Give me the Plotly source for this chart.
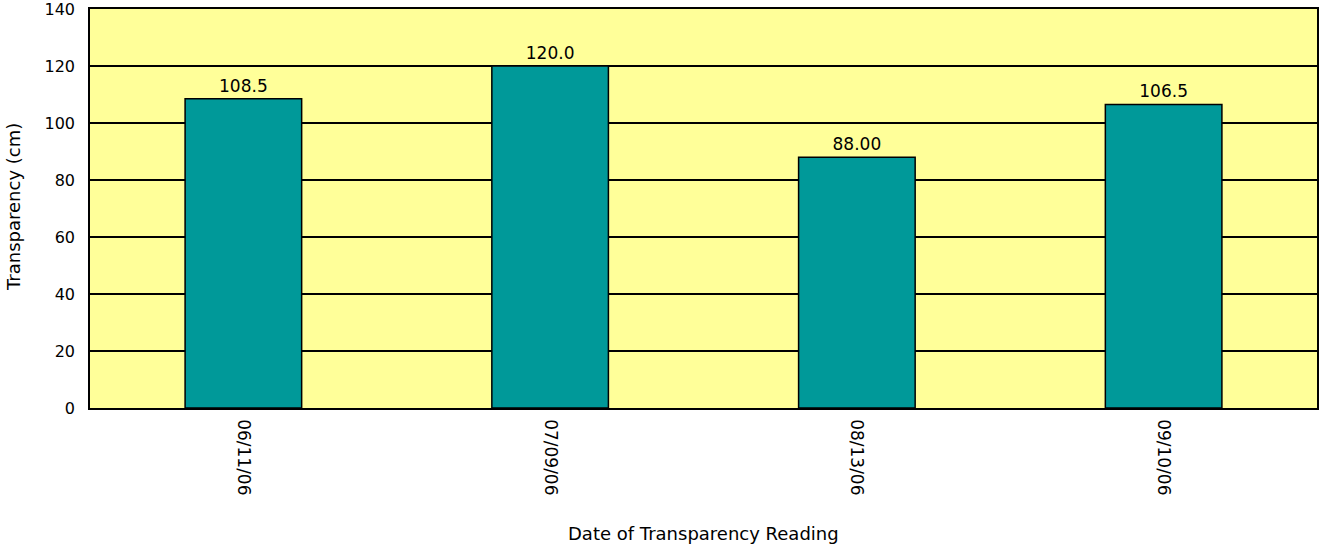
import plotly.graph_objects as go

dates = ["06/11/06", "07/09/06", "08/13/06", "09/10/06"]
transparency = [108.5, 120.0, 88.0, 106.5]
labels = ["108.5", "120.0", "88.00", "106.5"]
y_ticks = [0, 20, 40, 60, 80, 100, 120, 140]

font = "DejaVu Sans, Verdana, sans-serif"
W, H = 1319, 544
L, R, T, B = 90, 2, 9, 136
pw, ph = W - L - R, H - T - B

fig = go.Figure(go.Bar(
    x=dates, y=transparency,
    text=labels, textposition="outside", cliponaxis=False,
    textfont=dict(family=font, size=17, color="black"),
    marker=dict(color="#009999", line=dict(color="black", width=1.5)),
))

fig.update_layout(
    width=W, height=H,
    margin=dict(l=L, r=R, t=T, b=B, autoexpand=False),
    paper_bgcolor="white", plot_bgcolor="#FFFF99",
    bargap=0.62, showlegend=False,
    font=dict(family=font, size=16, color="black"),
    annotations=[
        dict(text="Date of Transparency Reading", xref="paper", yref="paper",
             x=(703 - L) / pw, y=(H - B - 533) / ph,
             xanchor="center", yanchor="middle",
             showarrow=False, font=dict(family=font, size=18)),
        dict(text="Transparency (cm)", xref="paper", yref="paper",
             x=(13 - L) / pw, y=(H - B - 207) / ph,
             xanchor="center", yanchor="middle",
             textangle=-90, showarrow=False, font=dict(family=font, size=18)),
    ],
)
fig.update_xaxes(
    automargin=False,
    tickangle=90, showline=True, linecolor="black", linewidth=1.5, mirror=True,
    showgrid=False, ticks="", tickfont=dict(size=17), ticklabelstandoff=6,
)
fig.update_yaxes(
    automargin=False, ticklabeloverflow="allow",
    range=[0, 140], tickvals=y_ticks, showline=True, linecolor="black", linewidth=1.5,
    mirror=True, showgrid=True, gridcolor="black", gridwidth=1.5, zeroline=False,
    ticks="", tickfont=dict(size=16), ticklabelstandoff=10,
)

fig.write_html("out.html", config={"displayModeBar": False},
               post_script="document.body.style.margin='0';document.body.style.overflow='hidden';")
